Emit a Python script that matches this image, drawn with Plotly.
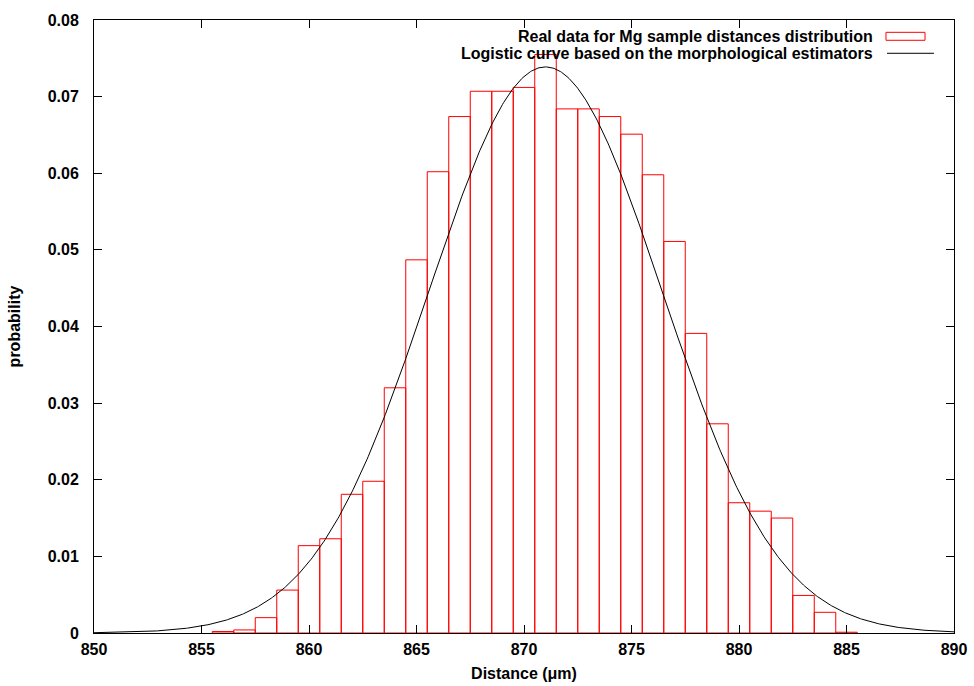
import numpy as np
import plotly.graph_objects as go

# Histogram of Mg sample distances (bin centres in µm, probability per bin)
bin_centers = [856, 857, 858, 859, 860, 861, 862, 863, 864, 865,
               866, 867, 868, 869, 870, 871, 872, 873, 874, 875,
               876, 877, 878, 879, 880, 881, 882, 883, 884, 885]
probabilities = [0.0002, 0.0004, 0.0020, 0.0056, 0.0114, 0.0123, 0.0181, 0.0198, 0.0320, 0.0487,
                 0.0602, 0.0674, 0.0707, 0.0707, 0.0712, 0.0755, 0.0684, 0.0684, 0.0674, 0.0651,
                 0.0598, 0.0511, 0.0391, 0.0273, 0.0170, 0.0159, 0.0150, 0.0049, 0.0027, 0.0001]
bin_width = 1.0

# Estimator parameters of the fitted curve
curve_center = 871.0
curve_scale = 5.4

x_ticks = [850, 855, 860, 865, 870, 875, 880, 885, 890]
y_ticks = [0, 0.01, 0.02, 0.03, 0.04, 0.05, 0.06, 0.07, 0.08]
y_tick_text = ["0", "0.01", "0.02", "0.03", "0.04", "0.05", "0.06", "0.07", "0.08"]

legend_bars = "Real data for Mg sample distances distribution"
legend_curve = "Logistic curve based on the morphological estimators"

FONT = "Liberation Sans, Arial, Helvetica, sans-serif"
FS = 16

# Hollow boxes: one closed outline per bin, separated by gaps
box_x, box_y = [], []
for c, p in zip(bin_centers, probabilities):
    left, right = c - bin_width / 2, c + bin_width / 2
    box_x += [left, left, right, right, left, None]
    box_y += [0, p, p, 0, 0, None]

xs = np.linspace(850, 890, 801)
ys = np.exp(-0.5 * ((xs - curve_center) / curve_scale) ** 2) / (curve_scale * np.sqrt(2 * np.pi))

fig = go.Figure()
fig.add_trace(go.Scatter(
    x=box_x, y=box_y, mode="lines", line=dict(color="#ff0000", width=1),
    connectgaps=False, name=legend_bars, showlegend=False, hoverinfo="skip",
))
fig.add_trace(go.Scatter(
    x=xs, y=ys, mode="lines", line=dict(color="black", width=1),
    name=legend_curve, showlegend=False,
))

# Key in gnuplot style: right-aligned text with the sample on the right
fig.add_annotation(x=0.9081, y=0.9728, xref="paper", yref="paper", xanchor="right", yanchor="middle",
                   text="<b>" + legend_bars + "</b>", showarrow=False,
                   font=dict(family=FONT, size=FS, color="black"))
fig.add_annotation(x=0.9081, y=0.9457, xref="paper", yref="paper", xanchor="right", yanchor="middle",
                   text="<b>" + legend_curve + "</b>", showarrow=False,
                   font=dict(family=FONT, size=FS, color="black"))
fig.add_shape(type="rect", xref="paper", yref="paper", x0=0.9209, x1=0.9663, y0=0.9669, y1=0.9799,
              line=dict(color="#ff0000", width=1), fillcolor="rgba(0,0,0,0)")
fig.add_shape(type="line", xref="paper", yref="paper", x0=0.9221, x1=0.9767, y0=0.9457, y1=0.9457,
              line=dict(color="black", width=1))

axis_common = dict(
    showline=True, linecolor="black", linewidth=1, mirror="ticks",
    ticks="inside", ticklen=8, tickwidth=1, tickcolor="black",
    showgrid=False, zeroline=False, automargin=False,
    tickfont=dict(family=FONT, size=FS, color="black", weight="bold"),
)

fig.update_layout(
    width=974, height=686,
    margin=dict(l=94, r=20, t=20, b=53),
    paper_bgcolor="white", plot_bgcolor="white",
    xaxis=dict(range=[850, 890], tickvals=x_ticks, ticklabelstandoff=2,
               title=dict(text="<b>Distance (μm)</b>", standoff=10,
                          font=dict(family=FONT, size=FS, color="black")),
               **axis_common),
    yaxis=dict(range=[0, 0.08], tickvals=y_ticks, ticktext=y_tick_text, ticklabelstandoff=11,
               title=dict(text="<b>probability</b>", standoff=23,
                          font=dict(family=FONT, size=FS, color="black")),
               **axis_common),
)

fig.write_html("out.html")
